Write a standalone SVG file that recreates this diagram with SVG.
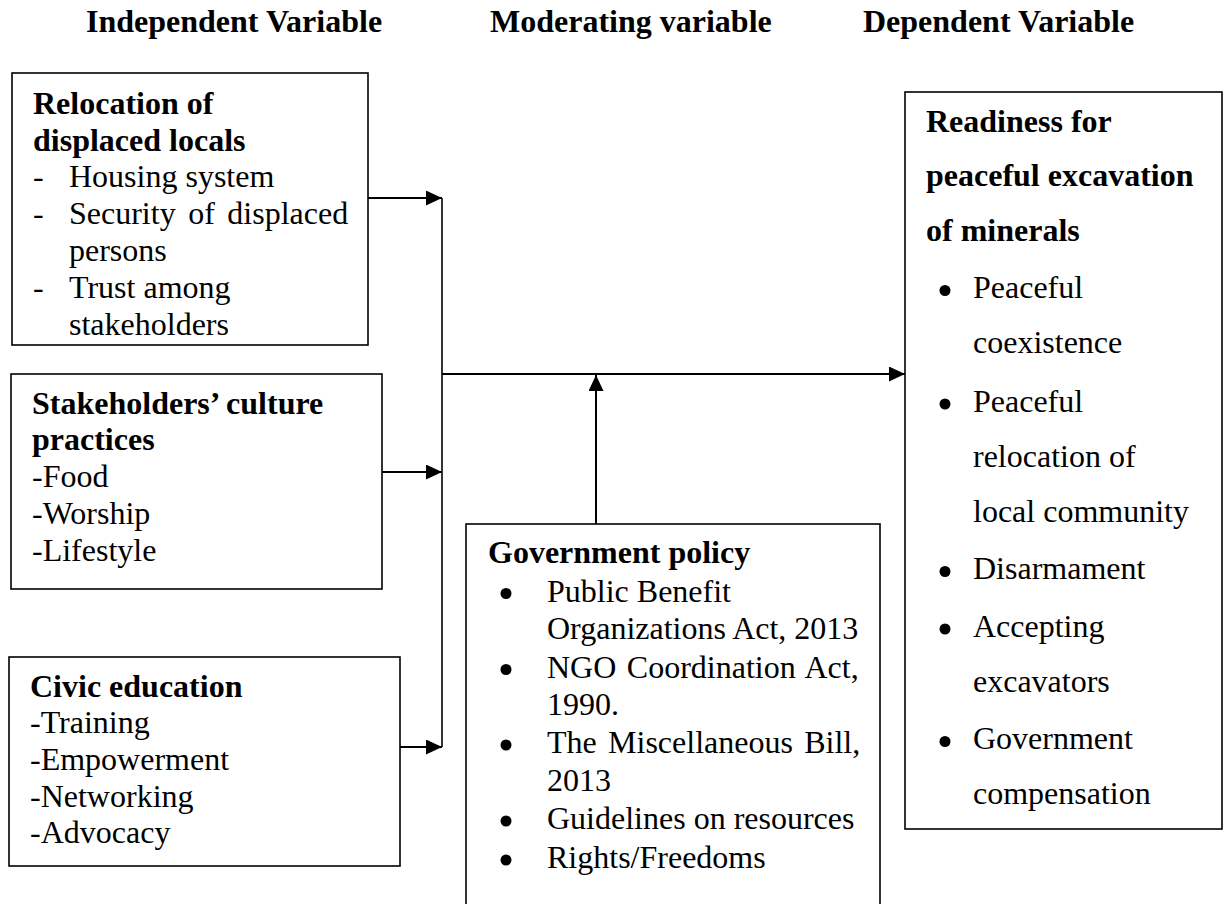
<svg xmlns="http://www.w3.org/2000/svg" width="1230" height="904" viewBox="0 0 1230 904">
<style>
text{font-family:"Liberation Serif","Times New Roman",serif;font-size:32px;fill:#000}
.b{font-weight:bold}
.box{fill:#fff;stroke:#000;stroke-width:1.6}
.c{fill:none;stroke:#000;stroke-width:2}
.bus{fill:none;stroke:#000;stroke-width:1.6}
.dot{fill:#000}
</style>
<defs>
<marker id="ah" markerUnits="userSpaceOnUse" markerWidth="16" markerHeight="15" refX="16" refY="7.5" orient="auto">
<path d="M0,0 L16,7.5 L0,15 z" fill="#000"/>
</marker>
</defs>
<rect width="1230" height="904" fill="#fff"/>
<g id="headers">
<text class="b" x="86" y="32">Independent Variable</text>
<text class="b" x="490" y="32">Moderating variable</text>
<text class="b" x="863" y="32">Dependent Variable</text>
</g>
<g id="relocation">
<rect class="box" x="12" y="73" width="356" height="272"/>
<text class="b" x="33" y="114">Relocation of</text>
<text class="b" x="33" y="151">displaced locals</text>
<text x="33" y="187">-</text><text x="69" y="187">Housing system</text>
<text x="33" y="224">-</text><text x="69" y="224" word-spacing="4.5">Security of displaced</text>
<text x="69" y="261">persons</text>
<text x="33" y="298">-</text><text x="69" y="298">Trust among</text>
<text x="69" y="335">stakeholders</text>
</g>
<g id="culture">
<rect class="box" x="11" y="374" width="371" height="215"/>
<text class="b" x="32" y="414">Stakeholders’ culture</text>
<text class="b" x="32" y="450">practices</text>
<text x="32" y="487">-Food</text>
<text x="32" y="524">-Worship</text>
<text x="32" y="561">-Lifestyle</text>
</g>
<g id="civic">
<rect class="box" x="9" y="657" width="391" height="209"/>
<text class="b" x="30" y="697">Civic education</text>
<text x="30" y="733">-Training</text>
<text x="30" y="770">-Empowerment</text>
<text x="30" y="807">-Networking</text>
<text x="30" y="843">-Advocacy</text>
</g>
<g id="government">
<rect class="box" x="466" y="524" width="414" height="392"/>
<text class="b" x="488" y="563">Government policy</text>
<circle class="dot" cx="506" cy="593.5" r="5.5"/>
<text x="547" y="602">Public Benefit</text>
<text x="547" y="639">Organizations Act, 2013</text>
<circle class="dot" cx="506" cy="669.5" r="5.5"/>
<text x="547" y="678" word-spacing="2.5">NGO Coordination Act,</text>
<text x="547" y="715">1990.</text>
<circle class="dot" cx="506" cy="745" r="5.5"/>
<text x="547" y="753" word-spacing="3.3">The Miscellaneous Bill,</text>
<text x="547" y="791">2013</text>
<circle class="dot" cx="506" cy="821" r="5.5"/>
<text x="547" y="829">Guidelines on resources</text>
<circle class="dot" cx="506" cy="860" r="5.5"/>
<text x="547" y="868">Rights/Freedoms</text>
</g>
<g id="readiness">
<rect class="box" x="905" y="92" width="317" height="737"/>
<text class="b" x="926" y="132">Readiness for</text>
<text class="b" x="926" y="186">peaceful excavation</text>
<text class="b" x="926" y="241">of minerals</text>
<circle class="dot" cx="945" cy="290.5" r="5.5"/>
<text x="973" y="298">Peaceful</text>
<text x="973" y="353">coexistence</text>
<circle class="dot" cx="945" cy="404" r="5.5"/>
<text x="973" y="412">Peaceful</text>
<text x="973" y="467">relocation of</text>
<text x="973" y="522">local community</text>
<circle class="dot" cx="945" cy="571.5" r="5.5"/>
<text x="973" y="579">Disarmament</text>
<circle class="dot" cx="945" cy="629" r="5.5"/>
<text x="973" y="637">Accepting</text>
<text x="973" y="692">excavators</text>
<circle class="dot" cx="945" cy="741.5" r="5.5"/>
<text x="973" y="749">Government</text>
<text x="973" y="804">compensation</text>
</g>
<g id="connectors">
<path class="bus" d="M442,198 V747"/>
<path class="c" d="M368,198 H442" marker-end="url(#ah)"/>
<path class="c" d="M382,472 H442" marker-end="url(#ah)"/>
<path class="c" d="M400,747 H442" marker-end="url(#ah)"/>
<path class="c" d="M442,374 H905" marker-end="url(#ah)"/>
<path class="c" d="M596,524 V375" marker-end="url(#ah)"/>
</g>
</svg>
